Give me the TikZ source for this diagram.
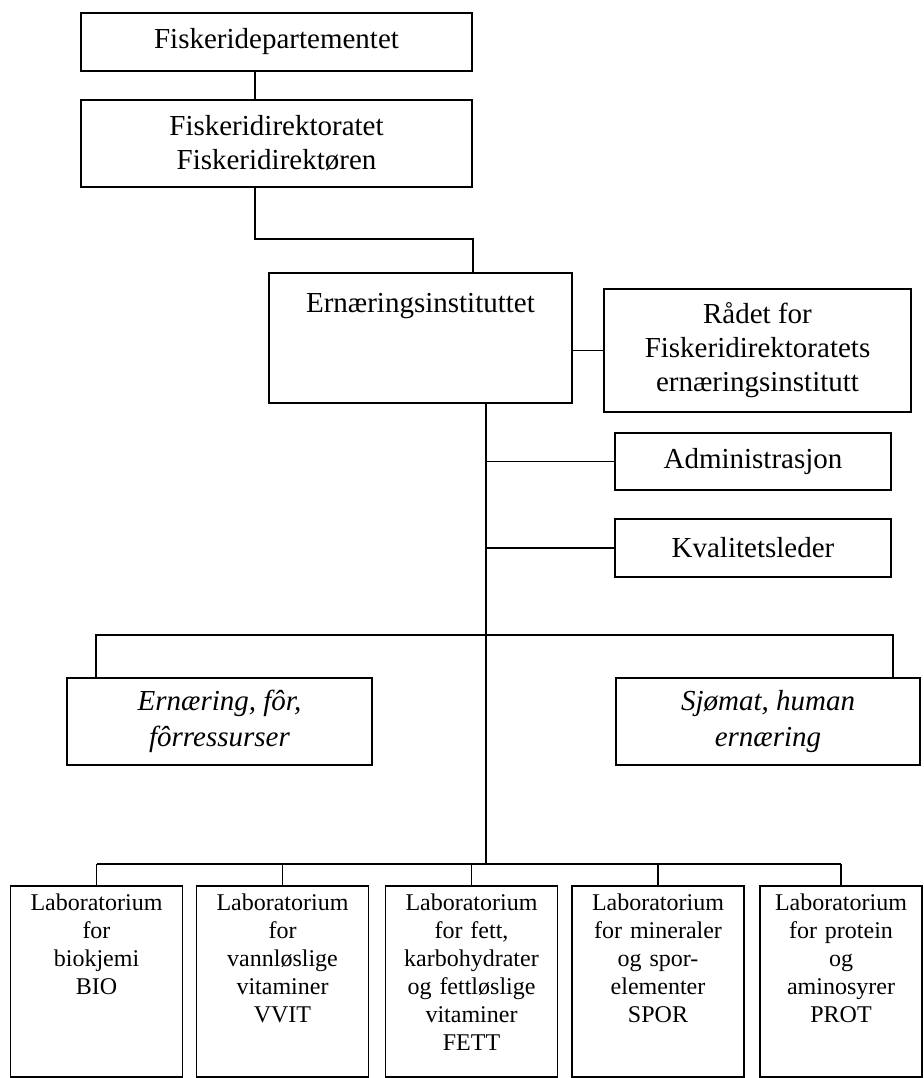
\documentclass[tikz,border=0pt]{standalone}
\usepackage{fontspec}
\setmainfont{Liberation Serif}
\usetikzlibrary{positioning,calc}

\begin{document}
\begin{tikzpicture}[x=0.5pt, y=-0.5pt, line width=0.8pt,
  unit/.style={draw, line width=0.8pt, align=center, inner sep=0pt, font=\fontsize{14.5}{17}\selectfont},
  lab/.style={draw, line width=0.8pt, align=center, inner sep=0pt, text width=80pt, minimum width=86pt, text height=12pt, text depth=83.5pt, font=\fontsize{12}{14}\selectfont}]
  \useasboundingbox (0,0) rectangle (924,1078);
  \node[unit, minimum width=195.5pt, minimum height=29pt] (dep) at (276.5,42) {Fiskeridepartementet};
  \node[unit, minimum width=195.5pt, minimum height=43.5pt] (dir) at (276.5,143.5) {Fiskeridirektoratet\\Fiskeridirektøren};
  \node[unit, minimum width=151.5pt, text height=19.5pt, text depth=45.5pt] (ins) at (420.5,338) {Ernæringsinstituttet};
  \node[unit, minimum width=153.5pt, minimum height=61.5pt] (rad) at (757.5,350.5) {Rådet for\\Fiskeridirektoratets\\ernæringsinstitutt};
  \node[unit, minimum width=138pt, minimum height=28.5pt] (adm) at (753,461.5) {Administrasjon};
  \node[unit, minimum width=138pt, minimum height=29pt] (kva) at (753,548) {Kvalitetsleder};
  \node[unit, minimum width=152.5pt, minimum height=43.5pt, font=\fontsize{14.5}{18}\selectfont\itshape] (ern) at (219.5,721.5) {Ernæring, fôr,\\fôrressurser};
  \node[unit, minimum width=152pt, minimum height=43.5pt, font=\fontsize{14.5}{18}\selectfont\itshape] (sjo) at (768,721.5) {Sjømat, human\\ernæring};
  \node[lab] (l1) at (96.5,981.5) {Laboratorium\\for\\biokjemi\\BIO};
  \node[lab] (l2) at (282.5,981.5) {Laboratorium\\for\\vannløslige\\vitaminer\\VVIT};
  \node[lab] (l3) at (471.5,981.5) {Laboratorium\\for fett,\\karbohydrater\\og fettløslige\\vitaminer\\FETT};
  \node[lab] (l4) at (658,981.5) {Laboratorium\\for mineraler\\og spor-\\elementer\\SPOR};
  \node[lab, minimum width=81pt, text width=77pt] (l5) at (841,981.5) {Laboratorium\\for protein\\og\\aminosyrer\\PROT};
  \coordinate (k1) at (255,239); \coordinate (k2) at (473,239);
  \coordinate (sp) at (486,864);
  \coordinate (b1) at (96,635); \coordinate (b2) at (893,635);
  \draw (dep.south -| k1) -- (dir.north -| k1);
  \draw (dir.south -| k1) -- (k1) -- (k2) -- (ins.north -| k2);
  \draw (ins.east |- rad.west) -- (rad.west);
  \draw (ins.south -| sp) -- (sp);
  \draw (sp |- adm.west) -- (adm.west); \draw (sp |- kva.west) -- (kva.west);
  \draw (ern.north -| b1) -- (b1) -- (b2) -- (sjo.north -| b2);
  \draw (l1.north |- sp) -- (l5.north |- sp);
  \draw (l1.north) -- (l1.north |- sp); \draw (l2.north) -- (l2.north |- sp); \draw (l3.north) -- (l3.north |- sp);
  \draw (l4.north) -- (l4.north |- sp); \draw (l5.north) -- (l5.north |- sp);
\end{tikzpicture}
\end{document}
